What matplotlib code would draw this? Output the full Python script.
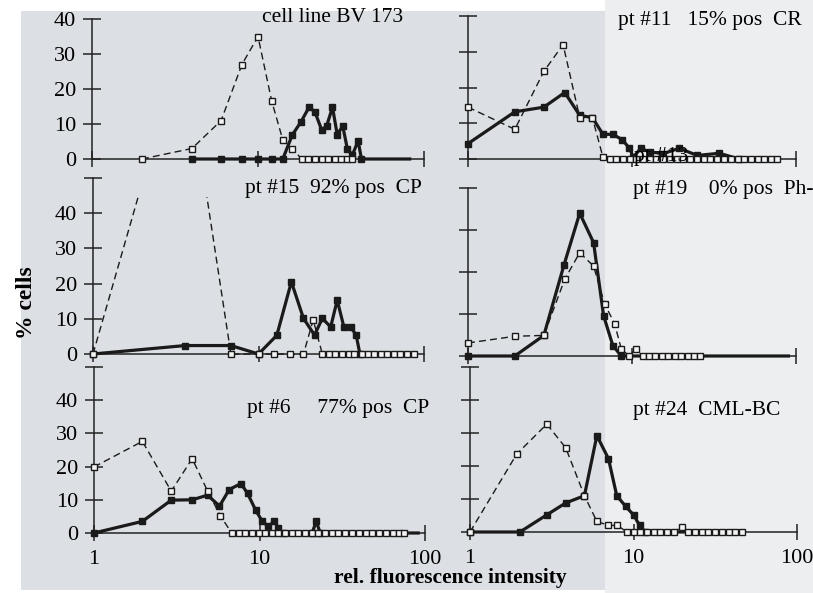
import matplotlib.pyplot as plt
from matplotlib.patches import Rectangle

plt.rcParams["font.family"] = ["Liberation Serif", "DejaVu Serif"]

W, H = 813, 593

# ---- data (x = rel. fluorescence intensity, y = % cells) ----
# cell line BV 173
bv_ctrl_x = [2.0, 4.0, 6.0, 8.0, 10.0, 12.1, 14.1, 16.1, 18.3, 20.0, 22.0, 24.2, 26.5, 29.0, 31.8, 34.5, 37.0]
bv_ctrl_y = [0, 3, 11, 27, 35, 16.5, 5.5, 3, 0, 0, 0, 0, 0, 0, 0, 0, 0]
bv_ab_x = [4.0, 6.0, 8.0, 10.0, 12.1, 14.1, 16.1, 18.2, 20.3, 22.0, 24.2, 25.9, 28.1, 30.0, 32.4, 34.5, 37.0, 40.1, 42.0, 82]
bv_ab_y = [0, 0, 0, 0, 0, 0, 6.9, 10.7, 14.8, 13.5, 8.3, 9.4, 14.8, 7.0, 9.4, 3.0, 1.1, 5.2, 0, 0]

# pt #11
p11_ctrl_x = [1, 1.93, 2.9, 3.8, 4.8, 5.73, 6.65, 7.3, 8.0, 8.8, 9.7, 10.6, 11.7, 12.8, 14.1, 15.5, 17.0,
              18.7, 20.6, 22.6, 24.9, 27.3, 30.0, 33.0, 36.3, 40.0, 44.0, 48.3, 53.1, 58.4, 64.2, 70.6, 76.6]
p11_ctrl_y = [14.5, 8.3, 24.5, 32, 11.6, 11.6, 0.5] + [0] * 26
p11_ab_x = [1, 1.93, 2.9, 3.89, 4.8, 5.73, 6.65, 7.64, 8.72, 9.65, 10.2, 11.3, 12.8, 15.5, 19.4, 25.0, 34.1, 45.0, 76.6]
p11_ab_y = [4.3, 13.2, 14.5, 18.6, 12.2, 11.6, 6.9, 6.9, 5.4, 3.0, 0.5, 3.0, 2.0, 1.5, 3.0, 1.0, 1.6, 0, 0]

# pt #15 (control peak runs off scale)
p15_ctrl_x = [1, 3.5, 6.81, 10, 12.4, 15.6, 18.7, 21.4, 24.3, 26.5, 29, 32, 35, 38, 42, 46, 50, 55, 60, 66, 72, 79, 87]
p15_ctrl_y = [0, 89, 0, 0, 0, 0, 0, 9.7, 0] + [0] * 14
p15_ab_x = [1, 3.6, 6.81, 10, 12.9, 15.8, 18.7, 21.8, 24.3, 27.3, 29.9, 32.8, 36.0, 38.9, 41, 90]
p15_ab_y = [0, 2.4, 2.4, 0, 5.3, 20.5, 10.1, 5.4, 10.1, 7.7, 15.3, 7.7, 7.7, 5.4, 0, 0]

# pt #19
p19_ctrl_x = [1, 1.93, 2.9, 3.89, 4.8, 5.83, 6.81, 7.83, 8.6, 9.6, 10.6, 11.6, 12.7, 13.9, 15.2, 16.6, 18.2, 19.9, 21.8, 23.8, 25.8]
p19_ctrl_y = [3.1, 4.7, 4.9, 18.3, 24.6, 21.4, 12.4, 7.7, 1.7, 0, 1.7] + [0] * 10
p19_ab_x = [1, 1.93, 2.9, 3.85, 4.8, 5.83, 6.71, 7.64, 8.6, 90]
p19_ab_y = [0, 0, 4.9, 21.7, 34, 27, 9.6, 2.5, 0, 0]

# pt #6
p6_ctrl_x = [1, 1.96, 2.93, 3.92, 4.86, 5.8, 6.79, 7.5, 8.2, 9.0, 9.9, 10.8, 11.9, 13.0, 14.3, 15.7, 17.2, 18.9,
             20.7, 22.7, 24.9, 27.3, 30, 33, 36, 40, 44, 48, 53, 58, 64, 70, 74.5]
p6_ctrl_y = [19.9, 27.6, 12.6, 22.4, 12.6, 5.2] + [0] * 27
p6_ab_x = [1, 1.96, 2.93, 3.92, 4.86, 5.73, 6.57, 7.73, 8.47, 9.5, 10.4, 11.3, 12.3, 13.0, 13.8, 20.8, 22.0, 23.3, 91]
p6_ab_y = [0, 3.5, 9.9, 10, 11.4, 8.1, 13.1, 14.9, 11.9, 6.8, 3.5, 2.0, 3.5, 1.5, 0, 0, 3.5, 0, 0]

# pt #24
p24_ctrl_x = [1, 1.93, 2.95, 3.85, 5.01, 5.97, 7.03, 7.98, 9.1, 10, 11, 12.1, 13.3, 14.6, 16.1, 17.7, 19.8,
              21.5, 23.7, 26.1, 28.7, 31.6, 34.7, 38.2, 42, 45.8]
p24_ctrl_y = [0, 23.6, 32.7, 25.5, 11, 3.2, 2, 2, 0, 0, 0, 0, 0, 0, 0, 0, 1.6] + [0] * 9
p24_ab_x = [1, 2.02, 2.95, 3.85, 5.01, 5.97, 7.03, 7.9, 8.94, 10, 10.9, 11.8, 45.8]
p24_ab_y = [0, 0, 5.2, 8.8, 11, 29.2, 22.2, 11, 7.8, 5.2, 2, 0, 0]

y_ticks = [0, 10, 20, 30, 40, 50]
y_labels = ["0", "10", "20", "30", "40", ""]
x_ticks = [1, 10, 100]
x_labels = ["1", "10", "100"]

fig = plt.figure(figsize=(W / 100, H / 100), dpi=100)
fig.patch.set_facecolor("white")
fig.patches.append(Rectangle((21 / W, 1 - 590 / H), (605 - 21) / W, (590 - 11) / H,
                             transform=fig.transFigure, facecolor="#dcdfe3", edgecolor="none", zorder=-10))
fig.patches.append(Rectangle((605 / W, 0), (W - 605) / W, 1,
                             transform=fig.transFigure, facecolor="#eceef0", edgecolor="none", zorder=-10))


def panel(x0, x1, ytop, ybot, ytop_val, left_labels, bottom_labels):
    ax = fig.add_axes([x0 / W, 1 - ybot / H, (x1 - x0) / W, (ybot - ytop) / H])
    ax.set_xscale("log")
    ax.set_xlim(1, 100)
    ax.set_ylim(0, ytop_val)
    ax.patch.set_visible(False)
    for s in ["top", "right"]:
        ax.spines[s].set_visible(False)
    for s in ["left", "bottom"]:
        ax.spines[s].set_linewidth(1.1)
        ax.spines[s].set_color("#222222")
    yt = [t for t in y_ticks if t <= ytop_val]
    ax.set_yticks(yt)
    ax.set_yticklabels(y_labels[:len(yt)] if left_labels else [""] * len(yt))
    ax.set_xticks(x_ticks)
    ax.set_xticklabels(x_labels if bottom_labels else ["", "", ""])
    ax.minorticks_off()
    ax.tick_params(axis="y", direction="inout", length=13, width=1.1, color="#222222",
                   labelsize=16, pad=5)
    ax.tick_params(axis="x", direction="inout", length=12, width=1.1, color="#222222",
                   labelsize=16, pad=6)
    return ax


def draw(ax, ctrl_x, ctrl_y, ab_x, ab_y, clip=None):
    ax.plot(ab_x, ab_y, color="#1a1a1a", lw=2.3, marker="s", ms=5, mfc="#1a1a1a",
            mec="#1a1a1a", markevery=slice(0, len(ab_x) - 1), clip_on=False, zorder=3)
    ln, = ax.plot(ctrl_x, ctrl_y, color="#1a1a1a", lw=1.0, ls=(0, (5, 3)), marker="s", ms=4.5,
                  mfc="#f4f4f4", mec="#1a1a1a", mew=1.0, clip_on=clip is not None, zorder=4)
    if clip is not None:
        ln.set_clip_path(Rectangle((0.5, -5), 300, clip + 5, transform=ax.transData))


ax1 = panel(92, 424, 19, 159, 40, True, False)
draw(ax1, bv_ctrl_x, bv_ctrl_y, bv_ab_x, bv_ab_y)
ax2 = panel(468, 796, 16, 159, 40, False, False)
draw(ax2, p11_ctrl_x, p11_ctrl_y, p11_ab_x, p11_ab_y)
ax3 = panel(93, 424, 178, 354, 50, True, False)
draw(ax3, p15_ctrl_x, p15_ctrl_y, p15_ab_x, p15_ab_y, clip=44.5)
ax4 = panel(468, 796, 188, 356, 40, False, False)
draw(ax4, p19_ctrl_x, p19_ctrl_y, p19_ab_x, p19_ab_y)
ax5 = panel(94, 425, 367, 533, 50, True, True)
draw(ax5, p6_ctrl_x, p6_ctrl_y, p6_ab_x, p6_ab_y)
ax6 = panel(470, 797, 367, 532, 50, False, True)
draw(ax6, p24_ctrl_x, p24_ctrl_y, p24_ab_x, p24_ab_y)


def ftext(x, y, s, **kw):
    fig.text(x / W, 1 - y / H, s, fontsize=15.5, va="center", **kw)


ftext(262, 18, "cell line BV 173")
ftext(618, 21, "pt #11   15% pos  CR")
ftext(634, 157, "pt #13")
ftext(245, 188, "pt #15  92% pos  CP")
ftext(633, 190, "pt #19    0% pos  Ph-")
ftext(247, 409, "pt #6     77% pos  CP")
ftext(633, 410, "pt #24  CML-BC")
fig.text(27 / W, 1 - 303 / H, "% cells", fontsize=17, fontweight="bold", rotation=90,
         ha="center", va="center")
fig.text(450 / W, 1 - 578 / H, "rel. fluorescence intensity", fontsize=15.5, fontweight="bold",
         ha="center", va="center")

fig.savefig("out.png", dpi=100)
